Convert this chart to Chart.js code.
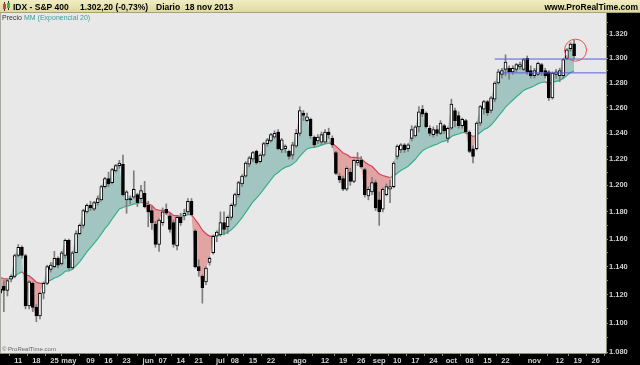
<!DOCTYPE html>
<html><head><meta charset="utf-8">
<script src="https://cdn.jsdelivr.net/npm/chart.js@4.4.1/dist/chart.umd.min.js"></script>
<style>html,body{margin:0;padding:0;background:#e8e8e8;overflow:hidden}#wrap{width:640px;height:365px;position:relative}</style>
</head><body><div id="wrap"><canvas id="c" width="640" height="365"></canvas></div>
<script>
// ---- DATA (IDX - S&P 400, daily, from 2013-04-04) ----
const startDate = '2013-04-04';
const holidays = ['2013-05-27','2013-07-04','2013-09-02','2013-11-28'];
const opens = [
1121,1126,1123,1131,1133,1148,1154,1148,1112,1128,
1111,1105,1121,1128,1138,1140,1146,1142,1148,1159,
1139,1150,1164,1170,1180,1185,1182,1187,1189,1199,
1205,1202,1211,1215,1216,1189,1190,1191,1193,1190,
1194,1185,1181,1171,1156,1172,1182,1177,1172,1155,
1176,1177,1180,1188,1166,1140,1133,1129,1143,1150,
1162,1163,1172,1169,1176,1185,1193,1201,1207,1216,
1220,1226,1218,1223,1232,1234,1237,1241,1227,1228,
1226,1223,1230,1240,1256,1250,1251,1237,1234,1233,
1233,1241,1236,1225,1207,1205,1197,1210,1203,1217,
1219,1212,1192,1195,1202,1189,1182,1193,1197,1199,
1222,1227,1231,1228,1236,1238,1245,1259,1256,1244,
1239,1243,1240,1246,1236,1244,1258,1254,1246,1250,
1241,1228,1228,1248,1259,1265,1258,1267,1280,1287,
1291,1292,1289,1291,1293,1291,1300,1290,1286,1287,
1295,1290,1289,1268,1287,1286,1286,1300,1308,1312];
const highs = [
1126,1130,1131,1134,1149,1156,1155,1149,1130,1129,
1113,1122,1129,1141,1143,1151,1147,1151,1160,1160,
1151,1166,1171,1182,1186,1188,1188,1192,1200,1206,
1210,1213,1216,1219,1223,1196,1192,1211,1194,1200,
1203,1188,1185,1173,1175,1183,1186,1179,1174,1177,
1179,1182,1190,1190,1167,1145,1134,1140,1147,1163,
1166,1180,1180,1177,1186,1194,1203,1208,1218,1222,
1226,1227,1224,1233,1236,1240,1242,1243,1236,1231,
1227,1233,1243,1261,1258,1256,1252,1238,1239,1241,
1243,1244,1238,1226,1209,1207,1214,1213,1220,1225,
1222,1213,1199,1206,1204,1195,1198,1201,1204,1218,
1231,1232,1232,1232,1246,1246,1261,1262,1257,1246,
1245,1246,1250,1247,1245,1267,1260,1257,1252,1251,
1242,1230,1249,1262,1266,1266,1269,1281,1291,1292,
1303,1294,1294,1296,1297,1300,1302,1294,1292,1297,
1296,1292,1290,1289,1291,1292,1300,1308,1313,1315];
const lows = [
1114,1108,1119,1129,1132,1147,1146,1110,1110,1108,
1101,1103,1117,1127,1136,1139,1139,1141,1146,1138,
1138,1150,1163,1168,1179,1181,1181,1185,1188,1198,
1199,1201,1210,1213,1192,1179,1186,1190,1184,1188,
1183,1169,1167,1154,1151,1170,1178,1165,1154,1152,
1170,1174,1178,1177,1139,1133,1114,1127,1141,1149,
1158,1162,1163,1164,1174,1184,1191,1199,1206,1214,
1218,1216,1217,1222,1230,1233,1236,1227,1225,1225,
1220,1220,1229,1238,1250,1249,1236,1229,1232,1231,
1232,1236,1229,1208,1202,1196,1196,1200,1202,1215,
1213,1191,1189,1193,1181,1170,1180,1192,1187,1198,
1220,1225,1225,1226,1234,1237,1241,1253,1244,1238,
1237,1238,1239,1240,1233,1243,1245,1244,1244,1240,
1225,1217,1227,1246,1255,1254,1256,1265,1279,1284,
1286,1283,1287,1289,1291,1290,1287,1284,1284,1286,
1286,1284,1266,1267,1284,1281,1284,1299,1306,1300];
const closes = [
1124,1123,1130,1133,1148,1154,1148,1112,1129,1111,
1105,1121,1128,1140,1141,1146,1141,1150,1159,1139,
1150,1164,1170,1181,1185,1183,1187,1190,1199,1205,
1201,1212,1215,1217,1193,1195,1189,1197,1187,1196,
1184,1180,1172,1156,1174,1180,1179,1167,1156,1176,
1172,1179,1188,1178,1140,1137,1125,1139,1146,1162,
1165,1172,1167,1176,1185,1193,1202,1207,1217,1221,
1225,1217,1223,1232,1235,1239,1240,1228,1235,1230,
1222,1231,1240,1258,1254,1253,1238,1231,1237,1239,
1241,1239,1231,1209,1204,1197,1213,1203,1219,1219,
1214,1193,1197,1202,1183,1180,1197,1199,1199,1217,
1230,1231,1227,1231,1243,1245,1257,1255,1245,1240,
1243,1240,1248,1242,1244,1263,1250,1246,1251,1241,
1226,1222,1248,1261,1265,1256,1268,1280,1289,1290,
1297,1289,1292,1295,1295,1299,1289,1286,1290,1296,
1289,1286,1268,1288,1289,1290,1299,1307,1311.8,1302.2];
const emaPeriod = 20;
const emaSeed = 1133;           // EMA(20) value before the first visible bar
// x-axis tick labels
const tickDates = ['2013-04-11','2013-04-18','2013-04-25','2013-05-01','2013-05-09','2013-05-16','2013-05-23',
 '2013-06-03','2013-06-07','2013-06-14','2013-06-21','2013-07-01','2013-07-08','2013-07-15','2013-07-22',
 '2013-08-01','2013-08-12','2013-08-19','2013-08-26','2013-09-03','2013-09-10','2013-09-17','2013-09-24',
 '2013-10-01','2013-10-08','2013-10-15','2013-10-22','2013-11-01','2013-11-12','2013-11-19','2013-11-26'];
const tickLabels = ['11','18','25','may','09','16','23','jun','07','14','21','jul','08','15','22',
 'ago','12','19','26','sep','10','17','24','oct','08','15','22','nov','12','19','26'];
// y-axis ticks (labelled every 20)
const yTicks = [1080,1090,1100,1110,1120,1130,1140,1150,1160,1170,1180,1190,1200,1210,1220,1230,1240,1250,1260,1270,1280,1290,1300,1310,1320,1330];
// drawn levels
const levelValues = [1299.5, 1288.2];
const levelStart = ['2013-10-17','2013-10-21'];
const circleDate = '2013-11-18';
const circleValue = 1306.8;

// ---- trading calendar ----
const tradingDays = [];
(function(){
  let d = new Date(startDate+'T00:00:00Z');
  while (tradingDays.length < 175) {
    const s = d.toISOString().slice(0,10); const wd = d.getUTCDay();
    if (wd !== 0 && wd !== 6 && holidays.indexOf(s) < 0) tradingDays.push(s);
    d = new Date(d.getTime() + 86400000);
  }
})();
const idx = s => tradingDays.indexOf(s);

// EMA(20) of closes
const alpha = 2/(emaPeriod+1);
const ema = []; let prev = emaSeed;
closes.forEach(c => { prev = alpha*c + (1-alpha)*prev; ema.push(prev); });

const xMin = -0.07, xMax = 167.84;
const tickIdx = tickDates.map(idx);

const closePts = closes.map((c,i)=>({x:i,y:c}));
const emaPts = ema.map((e,i)=>({x:i,y:e}));
const wickPts = lows.map((l,i)=>({x:i,y:[l,highs[i]]}));
const bodyPts = opens.map((o,i)=>({x:i,y:[o,closes[i]]}));
const bodyColors = opens.map((o,i)=> closes[i] >= o ? '#ffffff' : '#000000');
const levelDatasets = levelValues.map((v,k)=>({
  type:'line', data:[{x:idx(levelStart[k]),y:v},{x:xMax+2,y:v}], borderColor:'#5b5be0', borderWidth:1,
  pointRadius:0, fill:false, order:2
}));

const TEAL_FILL = '#a3c5c1', RED_FILL = '#e2a3a3', EMA_UP = '#35b08c', EMA_DN = '#e03a5a';
const AX_FONT = {family:"'Liberation Sans', Arial, sans-serif", size:7.5, weight:'bold'};

const decor = {
  id:'decor',
  beforeDraw(chart){
    const c = chart.ctx; c.save();
    c.fillStyle = '#e8e8e8'; c.fillRect(0,0,640,365);
    c.fillStyle = '#000'; c.fillRect(606,13,34,352); c.fillRect(0,353,640,12);
    const g = c.createLinearGradient(0,0,0,13);
    g.addColorStop(0,'#f1edc3'); g.addColorStop(1,'#dcd79d');
    c.fillStyle = g; c.fillRect(0,0,640,13);
    c.fillStyle = '#a9a173'; c.fillRect(0,12,640,1);
    // icon
    c.fillStyle = '#333'; c.fillRect(4,2,1,9); c.fillRect(8,1,1,9);
    c.fillStyle = '#e23b3b'; c.fillRect(3,4,3,5);
    c.fillStyle = '#2fbf3f'; c.fillRect(7,3,3,5);
    c.fillStyle = '#000'; c.textBaseline = 'alphabetic';
    c.font = "bold 8.5px 'Liberation Sans', Arial, sans-serif";
    c.fillText('IDX - S&P 400', 13, 9.5);
    c.fillText('1.302,20 (-0,73%)', 80, 9.5);
    c.fillText('Diario', 156, 9.5);
    c.fillText('18 nov 2013', 185, 9.5);
    c.textAlign = 'right'; c.fillText('www.ProRealTime.com', 638, 9.5);
    c.restore();
  },
  afterDraw(chart){
    const c = chart.ctx; c.save();
    c.fillStyle = '#a8a8a0'; c.fillRect(0,13,1,340);
    c.font = "7px 'Liberation Sans', Arial, sans-serif"; c.textBaseline='alphabetic';
    c.fillStyle = '#333'; c.fillText('Precio', 2, 19.5);
    c.fillStyle = '#3a9e98'; c.fillText('MM (Exponencial 20)', 24, 19.5);
    c.font = "6px 'Liberation Sans', Arial, sans-serif"; c.fillStyle = '#666';
    c.fillText('\u00a9 ProRealTime.com', 2, 351);
    c.restore();
  }
};

new Chart(document.getElementById('c'), {
  type:'bar',
  data:{datasets:[
    {type:'line', label:'Precio', data:closePts, borderColor:'rgba(0,0,0,0)', borderWidth:0, pointRadius:0,
     tension:0, fill:{target:1, above:TEAL_FILL, below:RED_FILL}, order:6},
    {type:'line', label:'MM (Exponencial 20)', data:emaPts, borderWidth:1.2, pointRadius:0, tension:0, fill:false,
     borderColor:EMA_UP, segment:{borderColor: s => closes[s.p1DataIndex] >= ema[s.p1DataIndex] ? EMA_UP : EMA_DN}, order:5},
    {type:'bar', label:'wick', data:wickPts, barThickness:1, backgroundColor:'#7d7d7d', grouped:false, order:4},
    {type:'bar', label:'body', data:bodyPts, barThickness:3, backgroundColor:bodyColors, borderColor:'#000',
     borderWidth:1, borderSkipped:false, grouped:false, order:3},
    ...levelDatasets,
    {type:'bubble', data:[{x:idx(circleDate)+0.4, y:circleValue, r:11}], backgroundColor:'rgba(0,0,0,0)',
     borderColor:'#e25555', borderWidth:1, order:1}
  ]},
  options:{
    responsive:false, animation:false, events:[],
    layout:{autoPadding:false, padding:{top:13,left:0,right:0,bottom:0}},
    plugins:{legend:{display:false}, tooltip:{enabled:false}},
    scales:{
      x:{type:'linear', min:xMin, max:xMax, offset:false,
         afterBuildTicks: s => { s.ticks = tickIdx.map(v=>({value:v})); },
         afterFit: s => { s.height = 12; s.paddingLeft = 0; s.paddingRight = 0; },
         ticks:{autoSkip:false, maxRotation:0, minRotation:0, padding:0, color:'#d2d2d2', font:AX_FONT,
                callback:(v,i)=> tickLabels[i]},
         grid:{drawOnChartArea:false, drawTicks:true, tickLength:3, color:'#8c8c80'},
         border:{display:true, color:'#8c8c78'}},
      y:{type:'logarithmic', position:'right', min:1079.5, max:1337.8,
         afterBuildTicks: s => { s.ticks = yTicks.map(v=>({value:v})); },
         afterFit: s => { s.width = 34; s.paddingTop = 0; s.paddingBottom = 0; },
         ticks:{autoSkip:false, padding:1, color:'#d2d2d2', font:AX_FONT,
                callback: v => (v % 20 === 0) ? (Math.floor(v/1000)+'.'+String(v%1000).padStart(3,'0')) : ''},
         grid:{drawOnChartArea:false, drawTicks:true, tickLength:2, color:'#8c8c80'},
         border:{display:true, color:'#8c8c78'}}
    }
  },
  plugins:[decor]
});
</script></body></html>
